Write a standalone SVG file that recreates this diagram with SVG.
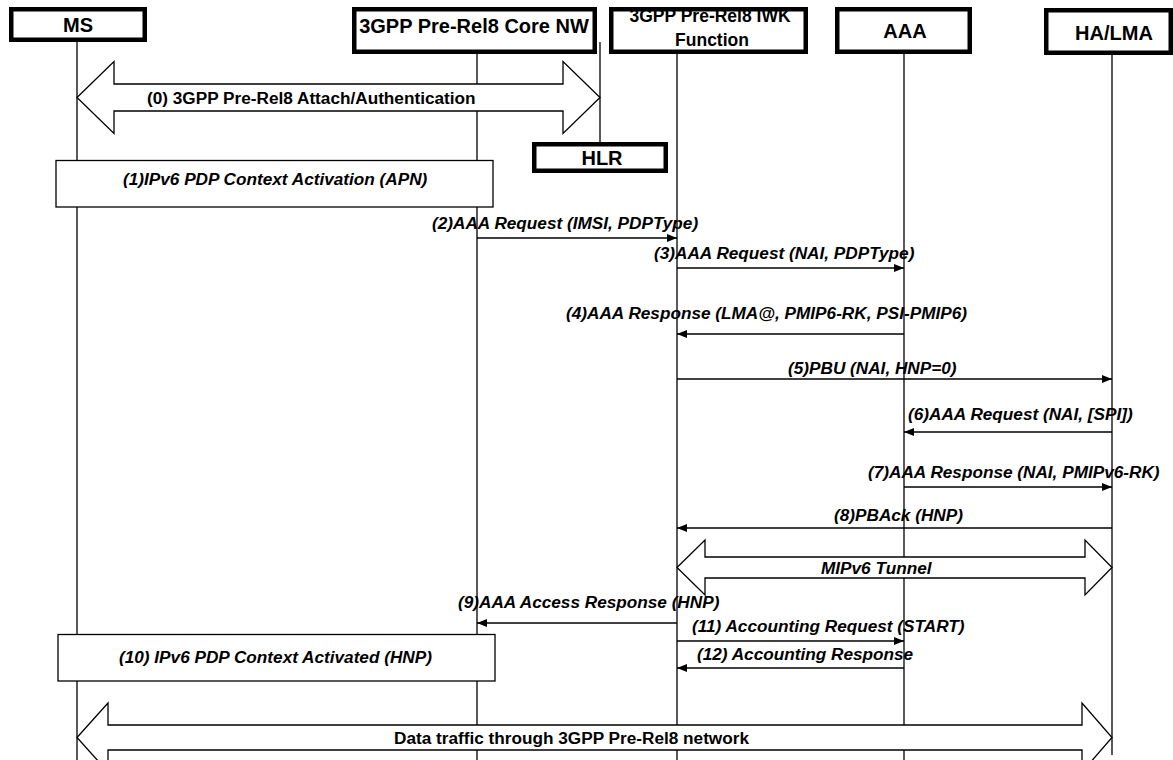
<svg xmlns="http://www.w3.org/2000/svg" width="1173" height="760" viewBox="0 0 1173 760">
<defs>
<style>
.box{fill:#fff;stroke:#000;stroke-width:4.5}
.hd{font-family:"Liberation Sans",Arial,sans-serif;font-weight:bold;font-size:20px;text-anchor:middle;fill:#000}
.hd2{font-family:"Liberation Sans",Arial,sans-serif;font-weight:bold;font-size:17.5px;text-anchor:middle;fill:#000}
.life{stroke:#000;stroke-width:1.3;fill:none}
.msg{stroke:#000;stroke-width:1.5;fill:none;marker-end:url(#ah)}
.lbl{font-family:"Liberation Sans",Arial,sans-serif;font-weight:bold;font-style:italic;font-size:17.2px;fill:#000}
.blbl{font-family:"Liberation Sans",Arial,sans-serif;font-weight:bold;font-size:17.2px;fill:#000}
.big{fill:#fff;stroke:#000;stroke-width:1.3}
.act{fill:#fff;stroke:#000;stroke-width:1.3}
</style>
<marker id="ah" viewBox="0 0 10 8" refX="10" refY="4" markerWidth="10" markerHeight="8" markerUnits="userSpaceOnUse" orient="auto">
<path d="M0,0 L10,4 L0,8 Z" fill="#000"/>
</marker>
</defs>
<rect width="1173" height="760" fill="#fff"/>

<g id="lifelines">
<line class="life" x1="77" y1="42" x2="77" y2="760"/>
<line class="life" x1="477" y1="54" x2="477" y2="760"/>
<line class="life" x1="677" y1="54" x2="677" y2="760"/>
<line class="life" x1="904" y1="54" x2="904" y2="760"/>
<line class="life" x1="1112" y1="55" x2="1112" y2="755"/>
<line class="life" x1="600" y1="42" x2="600" y2="142"/>
</g>

<g id="MS">
<rect class="box" x="11.25" y="9.25" width="133.5" height="30.5"/>
<text class="hd" x="78" y="32">MS</text>
</g>
<g id="CoreNW">
<rect class="box" x="354.25" y="9.25" width="240.5" height="42.5"/>
<text class="hd" x="474" y="33">3GPP Pre-Rel8 Core NW</text>
</g>
<g id="IWK">
<rect class="box" x="611.25" y="9.25" width="194.5" height="42.5"/>
<text class="hd2" x="710" y="22">3GPP Pre-Rel8 IWK</text>
<text class="hd2" x="712" y="46">Function</text>
</g>
<g id="AAA">
<rect class="box" x="837.25" y="9.25" width="132.5" height="42.5"/>
<text class="hd" x="905" y="38">AAA</text>
</g>
<g id="HALMA">
<rect class="box" x="1046.25" y="10.25" width="124.5" height="42.5"/>
<text class="hd" x="1114" y="40">HA/LMA</text>
</g>
<g id="HLR">
<rect class="box" x="534.25" y="144.25" width="131.5" height="26.5"/>
<text class="hd" x="602" y="165">HLR</text>
</g>

<g id="connectors">
<path id="m0" class="big" d="M77,97.5 L114,61.5 L114,84 L563,84 L563,61.5 L600,97.5 L563,133.5 L563,111 L114,111 L114,133.5 Z"/>
<text class="blbl" x="147" y="103.5">(0) 3GPP Pre-Rel8 Attach/Authentication</text>

<line class="msg" x1="477" y1="238" x2="677" y2="238"/>
<text class="lbl" x="432" y="229">(2)AAA Request (IMSI, PDPType)</text>

<line class="msg" x1="677" y1="268" x2="904" y2="268"/>
<text class="lbl" x="654" y="259">(3)AAA Request (NAI, PDPType)</text>

<line class="msg" x1="904" y1="334" x2="677" y2="334"/>
<text class="lbl" x="566" y="319">(4)AAA Response (LMA@, PMIP6-RK, PSI-PMIP6)</text>

<line class="msg" x1="677" y1="379" x2="1112" y2="379"/>
<text class="lbl" x="788" y="374">(5)PBU (NAI, HNP=0)</text>

<line class="msg" x1="1112" y1="432" x2="904" y2="432"/>
<text class="lbl" x="908" y="420">(6)AAA Request (NAI, [SPI])</text>

<line class="msg" x1="904" y1="487" x2="1112" y2="487"/>
<text class="lbl" x="868" y="478">(7)AAA Response (NAI, PMIPv6-RK)</text>

<line class="msg" x1="1112" y1="528" x2="677" y2="528"/>
<text class="lbl" x="834" y="521">(8)PBAck (HNP)</text>

<path id="tunnel" class="big" d="M677,567.5 L705,540 L705,557 L1085,557 L1085,540 L1112,567.5 L1085,595 L1085,578 L705,578 L705,595 Z"/>
<text class="lbl" x="821" y="573.5">MIPv6 Tunnel</text>

<line class="msg" x1="677" y1="623" x2="477" y2="623"/>
<text class="lbl" x="458" y="608">(9)AAA Access Response (HNP)</text>

<line class="msg" x1="677" y1="641" x2="904" y2="641"/>
<text class="lbl" x="692" y="632">(11) Accounting Request (START)</text>

<line class="msg" x1="904" y1="668" x2="677" y2="668"/>
<text class="lbl" x="697" y="660">(12) Accounting Response</text>

<path id="data" class="big" d="M77,737.5 L108,703 L108,725 L1082,725 L1082,703 L1112,737.5 L1082,772 L1082,750 L108,750 L108,772 Z"/>
<text class="blbl" x="394" y="744">Data traffic through 3GPP Pre-Rel8 network</text>
</g>

<g id="act1">
<rect class="act" x="56" y="160.5" width="437" height="46.5"/>
<text class="lbl" x="123" y="185">(1)IPv6 PDP Context Activation (APN)</text>
</g>
<g id="act10">
<rect class="act" x="58" y="634.5" width="437" height="46.5"/>
<text class="lbl" x="119" y="663">(10) IPv6 PDP Context Activated (HNP)</text>
</g>
</svg>
